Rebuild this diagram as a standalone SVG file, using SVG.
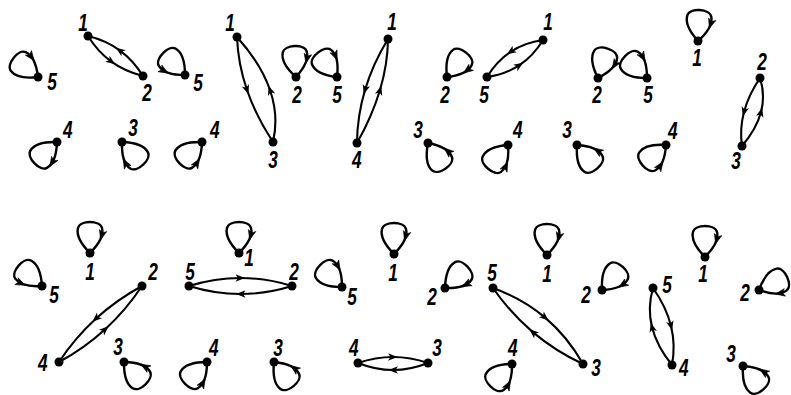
<svg xmlns="http://www.w3.org/2000/svg" xmlns:xlink="http://www.w3.org/1999/xlink" width="791" height="395" viewBox="0 0 791 395">
<style>
.arc{fill:none;stroke:#000;stroke-width:2.1;marker-mid:url(#ma);}
.lp{fill:none;stroke:#000;stroke-width:2.4;}
.ah{fill:#000;stroke:#000;stroke-width:0.6;stroke-linejoin:round;}
.nd{fill:#000;}
.lb{font-family:"Liberation Sans",Arial,sans-serif;font-style:italic;font-weight:bold;font-size:23px;text-anchor:middle;dominant-baseline:central;fill:#000;transform-box:fill-box;transform-origin:center;transform:scaleX(0.75);}
</style>
<defs>
<marker id="ma" markerUnits="userSpaceOnUse" markerWidth="14" markerHeight="14" viewBox="-7 -7 14 14" refX="0" refY="0" orient="auto">
<path d="M4.5 0 L-5 -3.8 L-2.5 0 L-5 3.8 Z" fill="#000"/>
</marker>
<path id="tear" class="lp" d="M0 0 C-8 -8 -14 -17 -12 -25 C-10 -33 10 -33 12 -25 C14 -17 8 -8 0 0"/>
<path id="ah" class="ah" d="M0 4.5 L-3.8 -5 L0 -2.5 L3.8 -5 Z"/>
<g id="lpR"><use xlink:href="#tear"/><use xlink:href="#ah" transform="translate(11.8,-17.6) rotate(15)"/></g>
<g id="lpL"><use xlink:href="#tear"/><use xlink:href="#ah" transform="translate(-11.8,-17.6) rotate(-15)"/></g>
<g id="lpLo"><use xlink:href="#tear"/><use xlink:href="#ah" transform="translate(-11.8,-17.6) rotate(165)"/></g>
</defs>
<rect width="791" height="395" fill="#fff"/>
<g id="connectors">
<!-- G1 -->
<path class="arc" d="M143 76 Q133.4 60.3 119.6 50.3 T88 36"/>
<path class="arc" d="M88 36 Q97.7 51.7 111.4 61.7 T143 76"/>
<use xlink:href="#lpR" transform="translate(38,77) rotate(-52)"/>
<use xlink:href="#lpLo" transform="translate(57,142) rotate(-133)"/>
<use xlink:href="#lpR" transform="translate(122,142) rotate(137)"/>
<!-- G2 -->
<path class="arc" d="M237 37 Q238 63.75 247 90 T273 142"/>
<path class="arc" d="M273 142 Q279 116.25 270 90 T237 37"/>
<use xlink:href="#lpL" transform="translate(185,75) rotate(-45)"/>
<use xlink:href="#lpR" transform="translate(296,77) rotate(-3)"/>
<use xlink:href="#lpL" transform="translate(202,142) rotate(-133)"/>
<!-- G3 -->
<path class="arc" d="M388 39 Q372.75 64 365 90 T357 143"/>
<path class="arc" d="M357 143 Q372.25 116 380 90 T388 39"/>
<use xlink:href="#lpR" transform="translate(337,77) rotate(-38)"/>
<use xlink:href="#lpR" transform="translate(447,77) rotate(38)"/>
<use xlink:href="#lpL" transform="translate(428,143) rotate(146)"/>
<!-- G4 -->
<path class="arc" d="M543 40 Q524.6 42.55 510.6 51.8 T487 77"/>
<path class="arc" d="M487 77 Q505.4 74.45 519.4 65.2 T543 40"/>
<use xlink:href="#lpR" transform="translate(598,78) rotate(18)"/>
<use xlink:href="#lpL" transform="translate(577,145) rotate(139)"/>
<use xlink:href="#lpL" transform="translate(508,145) rotate(-140)"/>
<!-- G5 -->
<path class="arc" d="M760 78 Q748.5 95 744 112 T742 146"/>
<path class="arc" d="M742 146 Q756.5 129 761 112 T760 78"/>
<use xlink:href="#lpR" transform="translate(647,78) rotate(-45)"/>
<use xlink:href="#lpR" transform="translate(698,41) rotate(3)"/>
<use xlink:href="#lpL" transform="translate(666,145) rotate(-131)"/>
<!-- G6 -->
<path class="arc" d="M142 286 Q116.55 299.8 95.8 318.8 T59 362"/>
<path class="arc" d="M59 362 Q84.45 348.2 105.2 329.2 T142 286"/>
<use xlink:href="#lpR" transform="translate(90,253) rotate(0)"/>
<use xlink:href="#lpL" transform="translate(42,286) rotate(-49)"/>
<use xlink:href="#lpL" transform="translate(124,362) rotate(136)"/>
<!-- G7 -->
<path class="arc" d="M189 286 Q214.75 278 240.5 278 T292 286"/>
<path class="arc" d="M292 286 Q266.25 294 240.5 294 T189 286"/>
<use xlink:href="#lpR" transform="translate(239,253) rotate(0)"/>
<use xlink:href="#lpL" transform="translate(207,362) rotate(-135)"/>
<use xlink:href="#lpL" transform="translate(274,362) rotate(141)"/>
<!-- G8 -->
<path class="arc" d="M358 363 Q375.5 357 393 357 T428 363"/>
<path class="arc" d="M428 363 Q410.5 370 393 370 T358 363"/>
<use xlink:href="#lpR" transform="translate(342,287) rotate(-45)"/>
<use xlink:href="#lpR" transform="translate(394,254) rotate(0)"/>
<use xlink:href="#lpR" transform="translate(445,288) rotate(47)"/>
<!-- G9 -->
<path class="arc" d="M493 288 Q522.6 298.6 545.1 317.6 T583 364"/>
<path class="arc" d="M583 364 Q555.3 351.1 532.8 332.1 T493 288"/>
<use xlink:href="#lpR" transform="translate(547,255) rotate(0)"/>
<use xlink:href="#lpR" transform="translate(602,290) rotate(42)"/>
<use xlink:href="#lpL" transform="translate(512,364) rotate(-136)"/>
<!-- G10 -->
<path class="arc" d="M672 365 Q656.75 346.25 652 327 T653 288"/>
<path class="arc" d="M653 288 Q666.25 306.75 671 326 T672 365"/>
<use xlink:href="#lpR" transform="translate(705,257) rotate(0)"/>
<use xlink:href="#lpR" transform="translate(759,290) rotate(65)"/>
<use xlink:href="#lpL" transform="translate(743,366) rotate(139)"/>
</g>
<g id="nodes">
<g id="g1-n1"><circle class="nd" cx="88" cy="36" r="4.5"/><text class="lb" x="83" y="23">1</text></g>
<g id="g1-n2"><circle class="nd" cx="143" cy="76" r="4.5"/><text class="lb" x="147" y="93">2</text></g>
<g id="g1-n3"><circle class="nd" cx="122" cy="142" r="4.5"/><text class="lb" x="133" y="128">3</text></g>
<g id="g1-n4"><circle class="nd" cx="57" cy="142" r="4.5"/><text class="lb" x="68" y="130">4</text></g>
<g id="g1-n5"><circle class="nd" cx="38" cy="77" r="4.5"/><text class="lb" x="52" y="82">5</text></g>

<g id="g2-n1"><circle class="nd" cx="237" cy="37" r="4.5"/><text class="lb" x="230" y="23">1</text></g>
<g id="g2-n2"><circle class="nd" cx="296" cy="77" r="4.5"/><text class="lb" x="297" y="95">2</text></g>
<g id="g2-n3"><circle class="nd" cx="273" cy="142" r="4.5"/><text class="lb" x="273" y="160">3</text></g>
<g id="g2-n4"><circle class="nd" cx="202" cy="142" r="4.5"/><text class="lb" x="215" y="130">4</text></g>
<g id="g2-n5"><circle class="nd" cx="185" cy="75" r="4.5"/><text class="lb" x="198" y="83">5</text></g>

<g id="g3-n1"><circle class="nd" cx="388" cy="39" r="4.5"/><text class="lb" x="392" y="22">1</text></g>
<g id="g3-n2"><circle class="nd" cx="447" cy="77" r="4.5"/><text class="lb" x="445" y="95">2</text></g>
<g id="g3-n3"><circle class="nd" cx="428" cy="143" r="4.5"/><text class="lb" x="418" y="130">3</text></g>
<g id="g3-n4"><circle class="nd" cx="357" cy="143" r="4.5"/><text class="lb" x="357" y="160">4</text></g>
<g id="g3-n5"><circle class="nd" cx="337" cy="77" r="4.5"/><text class="lb" x="337" y="95">5</text></g>

<g id="g4-n1"><circle class="nd" cx="543" cy="40" r="4.5"/><text class="lb" x="548" y="22">1</text></g>
<g id="g4-n2"><circle class="nd" cx="598" cy="78" r="4.5"/><text class="lb" x="597" y="95">2</text></g>
<g id="g4-n3"><circle class="nd" cx="577" cy="145" r="4.5"/><text class="lb" x="567" y="130">3</text></g>
<g id="g4-n4"><circle class="nd" cx="508" cy="145" r="4.5"/><text class="lb" x="518" y="130">4</text></g>
<g id="g4-n5"><circle class="nd" cx="487" cy="77" r="4.5"/><text class="lb" x="484" y="95">5</text></g>

<g id="g5-n1"><circle class="nd" cx="698" cy="41" r="4.5"/><text class="lb" x="697" y="58">1</text></g>
<g id="g5-n2"><circle class="nd" cx="760" cy="78" r="4.5"/><text class="lb" x="762" y="62">2</text></g>
<g id="g5-n3"><circle class="nd" cx="742" cy="146" r="4.5"/><text class="lb" x="736" y="161">3</text></g>
<g id="g5-n4"><circle class="nd" cx="666" cy="145" r="4.5"/><text class="lb" x="673" y="131">4</text></g>
<g id="g5-n5"><circle class="nd" cx="647" cy="78" r="4.5"/><text class="lb" x="648" y="95">5</text></g>

<g id="g6-n1"><circle class="nd" cx="90" cy="253" r="4.5"/><text class="lb" x="90" y="272">1</text></g>
<g id="g6-n2"><circle class="nd" cx="142" cy="286" r="4.5"/><text class="lb" x="153" y="272">2</text></g>
<g id="g6-n3"><circle class="nd" cx="124" cy="362" r="4.5"/><text class="lb" x="118" y="347">3</text></g>
<g id="g6-n4"><circle class="nd" cx="59" cy="362" r="4.5"/><text class="lb" x="43" y="363">4</text></g>
<g id="g6-n5"><circle class="nd" cx="42" cy="286" r="4.5"/><text class="lb" x="54" y="295">5</text></g>

<g id="g7-n1"><circle class="nd" cx="239" cy="253" r="4.5"/><text class="lb" x="249" y="258">1</text></g>
<g id="g7-n2"><circle class="nd" cx="292" cy="286" r="4.5"/><text class="lb" x="294" y="272">2</text></g>
<g id="g7-n3"><circle class="nd" cx="274" cy="362" r="4.5"/><text class="lb" x="278" y="348">3</text></g>
<g id="g7-n4"><circle class="nd" cx="207" cy="362" r="4.5"/><text class="lb" x="214" y="348">4</text></g>
<g id="g7-n5"><circle class="nd" cx="189" cy="286" r="4.5"/><text class="lb" x="190" y="272">5</text></g>

<g id="g8-n1"><circle class="nd" cx="394" cy="254" r="4.5"/><text class="lb" x="393" y="273">1</text></g>
<g id="g8-n2"><circle class="nd" cx="445" cy="288" r="4.5"/><text class="lb" x="432" y="297">2</text></g>
<g id="g8-n3"><circle class="nd" cx="428" cy="363" r="4.5"/><text class="lb" x="437" y="348">3</text></g>
<g id="g8-n4"><circle class="nd" cx="358" cy="363" r="4.5"/><text class="lb" x="354" y="348">4</text></g>
<g id="g8-n5"><circle class="nd" cx="342" cy="287" r="4.5"/><text class="lb" x="352" y="297">5</text></g>

<g id="g9-n1"><circle class="nd" cx="547" cy="255" r="4.5"/><text class="lb" x="547" y="274">1</text></g>
<g id="g9-n2"><circle class="nd" cx="602" cy="290" r="4.5"/><text class="lb" x="586" y="295">2</text></g>
<g id="g9-n3"><circle class="nd" cx="583" cy="364" r="4.5"/><text class="lb" x="596" y="368">3</text></g>
<g id="g9-n4"><circle class="nd" cx="512" cy="364" r="4.5"/><text class="lb" x="513" y="348">4</text></g>
<g id="g9-n5"><circle class="nd" cx="493" cy="288" r="4.5"/><text class="lb" x="492" y="273">5</text></g>

<g id="g10-n1"><circle class="nd" cx="705" cy="257" r="4.5"/><text class="lb" x="703" y="274">1</text></g>
<g id="g10-n2"><circle class="nd" cx="759" cy="290" r="4.5"/><text class="lb" x="745" y="293">2</text></g>
<g id="g10-n3"><circle class="nd" cx="743" cy="366" r="4.5"/><text class="lb" x="731" y="354">3</text></g>
<g id="g10-n4"><circle class="nd" cx="672" cy="365" r="4.5"/><text class="lb" x="684" y="368">4</text></g>
<g id="g10-n5"><circle class="nd" cx="653" cy="288" r="4.5"/><text class="lb" x="667" y="285">5</text></g>
</g>
</svg>
